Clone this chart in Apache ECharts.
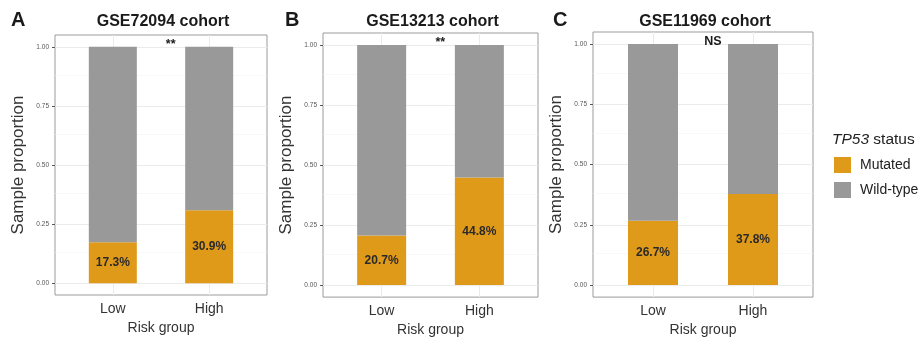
<!DOCTYPE html>
<html>
<head>
<meta charset="utf-8">
<script src="https://cdn.jsdelivr.net/npm/echarts@6/dist/echarts.min.js"></script>
<style>html,body{margin:0;padding:0;background:#fff}#c{width:922px;height:342px}</style>
</head>
<body>
<div id="c"></div>
<script>
// ---- data ----
const categories = ['Low', 'High'];
const cohorts = ['GSE72094 cohort', 'GSE13213 cohort', 'GSE11969 cohort'];
const panelLetters = ['A', 'B', 'C'];
const mutatedA = [0.173, 0.309];
const wildA = [0.827, 0.691];
const mutatedB = [0.207, 0.448];
const wildB = [0.793, 0.552];
const mutatedC = [0.267, 0.378];
const wildC = [0.733, 0.622];
const significance = ['**', '**', 'NS'];
const yTicks = [0, 0.25, 0.5, 0.75, 1];
const yMinor = [0.125, 0.375, 0.625, 0.875];
const seriesNames = ['Mutated', 'Wild-type'];

// ---- layout / style ----
const FONT = "'Liberation Sans', Arial, sans-serif";
const COL_MUT = '#E09A1A';
const COL_WT = '#999999';
const grids = [
  {left: 55, top: 35, width: 212, height: 260},
  {left: 323, top: 33, width: 215, height: 266},
  {left: 593, top: 32, width: 220, height: 269}
];
const barWidths = [48, 49, 50];
const letterLeft = [10, 284, 552];
const mutated = [mutatedA, mutatedB, mutatedC];
const wild = [wildA, wildB, wildC];

// discrete axis with ggplot-like 0.6 expansion: 12 slots, categories at slots 3 and 8
const NSLOT = 12;
const catSlot = [3, 8];
const slotLabels = Array.from({length: NSLOT}, (_, i) => {
  const j = catSlot.indexOf(i); return j >= 0 ? categories[j] : '';
});
const toSlots = arr => {
  const out = new Array(NSLOT).fill(null);
  arr.forEach((v, j) => { out[catSlot[j]] = v; });
  return out;
};
const isCat = i => catSlot.indexOf(i) >= 0;

const option = {
  animation: false,
  backgroundColor: '#fff',
  textStyle: {fontFamily: FONT},
  title: [],
  legend: {
    data: seriesNames,
    orient: 'vertical',
    left: 834, top: 157, padding: 0,
    itemWidth: 17, itemHeight: 16, itemGap: 9,
    icon: 'rect',
    textStyle: {fontFamily: FONT, fontSize: 14, color: '#222', padding: [0, 0, 0, 4]}
  },
  grid: [], xAxis: [], yAxis: [], series: []
};

grids.forEach((g, k) => {
  const cx = g.left + g.width / 2;
  option.grid.push(Object.assign({show: true, borderColor: '#9b9b9b', borderWidth: 1, backgroundColor: '#fff'}, g));
  option.title.push({
    text: cohorts[k], left: cx + 2, top: 14, textAlign: 'center', padding: 0,
    textStyle: {fontFamily: FONT, fontSize: 16, fontWeight: 'bold', color: '#1a1a1a'}
  });
  option.title.push({
    text: panelLetters[k], left: letterLeft[k] + 1, top: 10, padding: 0,
    textStyle: {fontFamily: FONT, fontSize: 20, fontWeight: 'bold', color: '#1a1a1a'}
  });
  option.xAxis.push({
    type: 'category', gridIndex: k, data: slotLabels, boundaryGap: false,
    name: 'Risk group', nameLocation: 'middle', nameGap: 25,
    nameTextStyle: {fontFamily: FONT, fontSize: 14, color: '#333'},
    axisLine: {show: false},
    axisTick: {show: true, length: 3, interval: i => isCat(i), lineStyle: {color: '#555'}},
    axisLabel: {show: true, margin: 7, interval: i => isCat(i), fontSize: 14, color: '#333', fontFamily: FONT},
    splitLine: {show: false}
  });
  option.yAxis.push({
    type: 'value', gridIndex: k, min: -0.05, max: 1.05,
    name: 'Sample proportion', nameLocation: 'middle', nameGap: 28,
    nameTextStyle: {fontFamily: FONT, fontSize: 17, color: '#333'},
    axisLine: {show: false},
    axisTick: {show: true, length: 3, customValues: yTicks, lineStyle: {color: '#555'}},
    axisLabel: {show: true, margin: 6, customValues: yTicks, fontSize: 6.5, color: '#555', fontFamily: FONT,
      formatter: v => v.toFixed(2)},
    splitLine: {show: false}
  });
  const gridLines = [];
  categories.forEach(c => gridLines.push({xAxis: c, lineStyle: {color: '#ebebeb', width: 1, type: 'solid'}}));
  yTicks.forEach(y => gridLines.push({yAxis: y, lineStyle: {color: '#ebebeb', width: 1, type: 'solid'}}));
  yMinor.forEach(y => gridLines.push({yAxis: y, lineStyle: {color: '#f3f3f3', width: 0.6, type: 'solid'}}));
  option.series.push({
    name: seriesNames[0], type: 'bar', xAxisIndex: k, yAxisIndex: k, stack: 's' + k,
    barWidth: barWidths[k], z: 3,
    itemStyle: {color: COL_MUT},
    data: toSlots(mutated[k]),
    label: {show: true, position: 'inside', fontFamily: FONT, fontSize: 12, fontWeight: 'bold', color: '#2a2a2a',
      formatter: p => (p.value * 100).toFixed(1) + '%'},
    markLine: {silent: true, symbol: 'none', z: 1, animation: false, label: {show: false}, data: gridLines}
  });
  option.series.push({
    name: seriesNames[1], type: 'bar', xAxisIndex: k, yAxisIndex: k, stack: 's' + k,
    barWidth: barWidths[k], z: 3,
    itemStyle: {color: COL_WT},
    data: toSlots(wild[k]),
    markPoint: {
      silent: true, z: 6,
      data: [{coord: [(catSlot[0] + catSlot[1]) / 2, 1.01], symbol: 'circle', symbolSize: 0,
        label: {show: true, position: 'inside', formatter: significance[k], fontFamily: FONT,
          fontSize: 12.5, fontWeight: 'bold', color: '#1a1a1a'}}]
    }
  });
});

option.title.push({
  text: '{i|TP53} status', left: 832, top: 132, padding: 0,
  textStyle: {fontFamily: FONT, fontSize: 15.5, fontWeight: 'normal', color: '#222',
    rich: {i: {fontFamily: FONT, fontSize: 15.5, fontStyle: 'italic', fontWeight: 'normal', color: '#222'}}}
});

const chart = echarts.init(document.getElementById('c'), null, {renderer: 'canvas'});
chart.setOption(option);
</script>
</body>
</html>
